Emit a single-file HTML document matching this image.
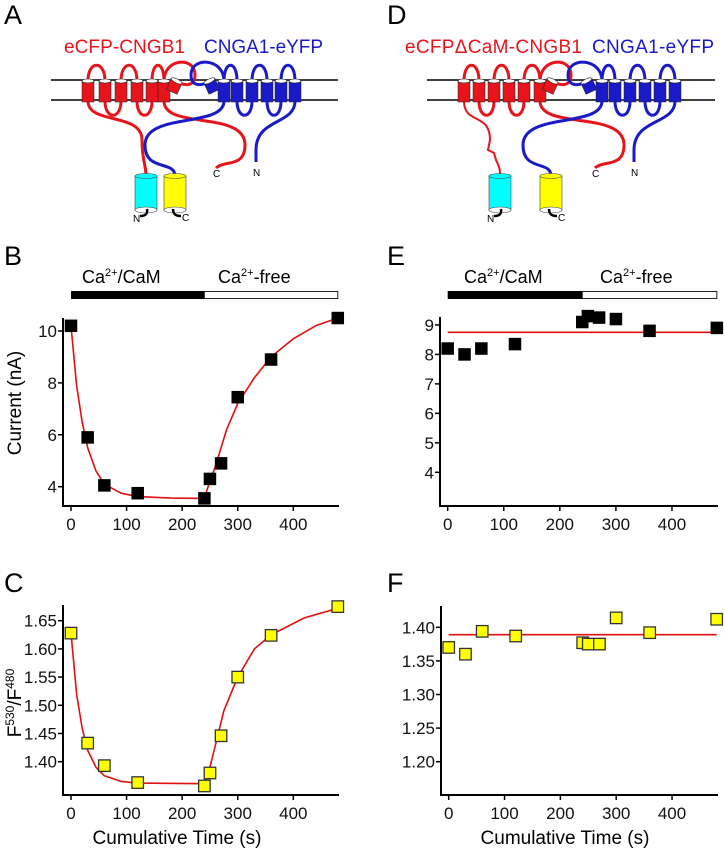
<!DOCTYPE html>
<html><head><meta charset="utf-8"><style>
html,body{margin:0;padding:0;background:#fff;}
svg{display:block;font-family:"Liberation Sans",Arial,sans-serif;}
</style></head><body>
<svg id="fig" width="725" height="853" viewBox="0 0 725 853">
<text x="4" y="24" font-size="27">A</text>
<text x="25" y="24" font-size="27" transform="translate(362,0)">D</text>
<text x="4" y="265" font-size="27">B</text>
<text x="387" y="265" font-size="27">E</text>
<text x="4" y="592" font-size="27">C</text>
<text x="387" y="592" font-size="27">F</text>
<text x="64" y="53" font-size="19" textLength="121" fill="#e8141c">eCFP-CNGB1</text>
<text x="204" y="53" font-size="19" textLength="119" fill="#1a1ac8">CNGA1-eYFP</text>
<text x="405" y="53" font-size="19" textLength="177" fill="#e8141c">eCFPΔCaM-CNGB1</text>
<text x="592" y="53" font-size="19" textLength="122" fill="#1a1ac8">CNGA1-eYFP</text>
<g id="diagA"></g>
<g id="diagD"></g>
<g id="plots"></g>
</svg>
<script>
// ---- data ----
const timesB = [0,30,60,120,240,250,270,300,360,480];
const currentB = [10.2,5.9,4.05,3.75,3.55,4.3,4.9,7.45,8.9,10.5];
const fitTimeB = [0,10,20,30,45,60,90,120,180,240,245,260,280,300,330,360,400,440,480];
const fitCurrentB = [10.2,7.9,6.5,5.5,4.6,4.1,3.75,3.62,3.56,3.55,3.9,4.8,6.2,7.2,8.2,9.0,9.7,10.2,10.5];
const timesC = [0,30,60,120,240,250,270,300,360,480];
const ratioC = [1.628,1.433,1.393,1.363,1.357,1.38,1.446,1.55,1.624,1.675];
const fitTimeC = [0,10,20,30,45,60,90,120,240,250,260,275,300,330,360,420,480];
const fitRatioC = [1.628,1.52,1.46,1.42,1.39,1.375,1.365,1.362,1.361,1.39,1.43,1.49,1.55,1.6,1.625,1.655,1.672];
const timesE = [0,30,60,120,240,250,270,300,360,480];
const currentE = [8.2,8.0,8.2,8.35,9.1,9.3,9.25,9.2,8.8,8.9];
const fitLevelE = [8.75];
const timesF = [0,30,60,120,240,250,270,300,360,480];
const ratioF = [1.370,1.360,1.394,1.387,1.377,1.375,1.375,1.414,1.392,1.412];
const fitLevelF = [1.389];
const xTicks = [0,100,200,300,400];
const yTicksB = [4,6,8,10];
const yTicksC = [1.40,1.45,1.50,1.55,1.60,1.65];
const yTicksE = [4,5,6,7,8,9];
const yTicksF = [1.20,1.25,1.30,1.35,1.40];

const NS="http://www.w3.org/2000/svg";
function mk(parent,tag,attrs,text){const e=document.createElementNS(NS,tag);for(const k in attrs)e.setAttribute(k,attrs[k]);if(text!==undefined)e.textContent=text;parent.appendChild(e);return e;}
const plots=document.getElementById('plots');

function panel(o){
  const g=mk(plots,'g',{});
  
  
  const X=t=>o.x0+t*o.xs;
  const Y=v=>o.y0-(v-o.v0)*o.ys;
  const ax=mk(g,'path',{d:`M${o.axX},${o.top} V${o.bot} H${o.right}`,stroke:'#000','stroke-width':2,fill:'none'});
  
  
  xTicks.forEach(t=>{
    mk(g,'line',{x1:X(t),x2:X(t),y1:o.bot,y2:o.bot+5,stroke:'#000','stroke-width':1.5});
    const tl=mk(g,'text',{x:X(t),y:o.bot+24,'font-size':17,'text-anchor':'middle',fill:'#111'},String(t));
    
    
  });
  o.yt.forEach(v=>{
    mk(g,'line',{x1:o.axX-5,x2:o.axX,y1:Y(v),y2:Y(v),stroke:'#000','stroke-width':1.5});
    const tl=mk(g,'text',{x:o.axX-6,y:Y(v)+6,'font-size':17,'text-anchor':'end',fill:'#111'},o.fmt(v));
    
    
  });
  if(o.fitT){
    const d=o.fitT.map((t,i)=>(i?'L':'M')+X(t).toFixed(1)+','+Y(o.fitV[i]).toFixed(1)).join(' ');
    const fl=mk(g,'path',{d:d,stroke:'#e01010','stroke-width':1.6,fill:'none','stroke-linejoin':'round'});
    
    
  } else {
    const fl=mk(g,'line',{x1:X(0),x2:X(480),y1:Y(o.level[0]),y2:Y(o.level[0]),stroke:'#e01010','stroke-width':1.6});
    
    
  }
  o.t.forEach((t,i)=>{
    const s=o.yellow?11.5:12.5;
    const r=mk(g,'rect',{x:X(t)-s/2,y:Y(o.v[i])-s/2,width:s,height:s,fill:o.yellow?'#ffff00':'#000',stroke:o.yellow?'#333':'none','stroke-width':1.3});
    
    
  });
  if(o.bar){
    const b=o.bar;
    const bb=mk(g,'rect',{x:X(0),y:291,width:X(240)-X(0),height:8,fill:'#000'});
    
    
    const wb=mk(g,'rect',{x:X(240),y:291.5,width:X(480)-X(240),height:7,fill:'#fff',stroke:'#222','stroke-width':1});
    
    
    const t1=mk(g,'text',{x:b[0],y:283,'font-size':18});
    
    
    t1.innerHTML='Ca<tspan font-size="11" dy="-7">2+</tspan><tspan dy="7">/CaM</tspan>';
    const t2=mk(g,'text',{x:b[1],y:283,'font-size':18});
    
    
    t2.innerHTML='Ca<tspan font-size="11" dy="-7">2+</tspan><tspan dy="7">-free</tspan>';
  }
  if(o.xlabel){
    const xl=mk(g,'text',{x:o.xlabel,y:844,'font-size':19,'text-anchor':'middle'},'Cumulative Time (s)');
    
    
  }
  if(o.ylabel){
    const yl=mk(g,'text',{transform:`translate(21,${o.ylabelY}) rotate(-90)`,'font-size':19,'text-anchor':'middle'});
    
    
    yl.innerHTML=o.ylabel;
  }
}
panel({name:'panel-b-current-plot',x0:71,xs:0.5558,y0:486.7,v0:4,ys:25.95,axX:63,top:318,bot:506,right:339,yt:yTicksB,fmt:v=>String(v),t:timesB,v:currentB,fitT:fitTimeB,fitV:fitCurrentB,bar:[82,218],ylabel:'Current (nA)',ylabelY:403});
panel({name:'panel-c-ratio-plot',x0:71,xs:0.5558,y0:761.7,v0:1.40,ys:564,axX:63,top:605,bot:795,right:339,yt:yTicksC,fmt:v=>v.toFixed(2),t:timesC,v:ratioC,fitT:fitTimeC,fitV:fitRatioC,yellow:true,xlabel:177,ylabel:'F<tspan font-size="12" dy="-7">530</tspan><tspan dy="7">/F</tspan><tspan font-size="12" dy="-7">480</tspan>',ylabelY:703});
panel({name:'panel-e-current-plot',x0:447.7,xs:0.5607,y0:472.3,v0:4,ys:29.47,axX:440,top:317,bot:506,right:718,yt:yTicksE,fmt:v=>String(v),t:timesE,v:currentE,level:fitLevelE,bar:[464,600]});
panel({name:'panel-f-ratio-plot',x0:448.7,xs:0.5583,y0:627.3,v0:1.40,ys:672,axX:441,top:606,bot:795,right:718,yt:yTicksF,fmt:v=>v.toFixed(2),t:timesF,v:ratioF,level:fitLevelF,yellow:true,xlabel:565});

// ---- channel diagrams ----
const RED='#e8141c',BLUE='#1a1ac8';
function helix(g,x,col,rot){
  const h=mk(g,'g',{transform:rot?`rotate(${rot} ${x} 80)`:''});
  mk(h,'rect',{x:x-6,y:81,width:12,height:rot?12:21,fill:col,stroke:'#222','stroke-width':0.5});
  mk(h,'ellipse',{cx:x,cy:81,rx:6,ry:2,fill:'#fff',stroke:'#222','stroke-width':0.6});
}
function cyl(g,cx,col,name){
  const c=mk(g,'g',{});
  
  
  mk(c,'rect',{x:cx-11,y:176,width:22,height:34,fill:col,stroke:'#444','stroke-width':0.6});
  mk(c,'ellipse',{cx:cx,cy:176,rx:11,ry:2.5,fill:col,stroke:'#444','stroke-width':0.6});
  mk(c,'ellipse',{cx:cx,cy:210,rx:11,ry:3,fill:'#fff',stroke:'#444','stroke-width':0.6});
}
function channel(id,p){
  const g=document.getElementById(id);
  mk(g,'line',{x1:p.m0,x2:p.m1,y1:80,y2:80,stroke:'#000','stroke-width':1.5});
  mk(g,'line',{x1:p.m0,x2:p.m1,y1:100,y2:100,stroke:'#000','stroke-width':1.5});
  const loops=(xs,col)=>{
    for(let i=0;i<xs.length-1;i++){
      const a=xs[i],b=xs[i+1];
      const d=(i%2===0)?`M${a},81 C${a},60 ${b},60 ${b},81`:`M${a},101 C${a},120 ${b},120 ${b},101`;
      mk(g,'path',{d:d,stroke:col,'stroke-width':3,fill:'none'});
    }
  };
  loops(p.r,RED);loops(p.b,BLUE);
  const r6=p.r[5],b1=p.b[0];
  mk(g,'path',{d:`M${r6},81 C${r6},58 ${p.rs+18},56 ${p.rs+18},75 C${p.rs+18},88 ${p.rs+4},86 ${p.rs},80`,stroke:RED,'stroke-width':3,fill:'none'});
  mk(g,'path',{d:`M${b1},81 C${b1},58 ${p.bs-18},56 ${p.bs-18},75 C${p.bs-18},88 ${p.bs-4},86 ${p.bs},80`,stroke:BLUE,'stroke-width':3,fill:'none'});
  const r1=p.r[0],b6=p.b[5];
  let d1;
  if(p.zig){d1=`M${r1},101 C${r1},125 ${p.cy-10},112 ${p.cy-10},140 L${p.cy-12},150 L${p.cy-6},153 L${p.cy-4},160 C${p.cy},168 ${p.cy},170 ${p.cy},176`;}
  else d1=`M${r1},101 C${r1},125 ${p.cy-4},112 ${p.cy-4},140 C${p.cy-4},160 ${p.cy},165 ${p.cy},176`;
  mk(g,'path',{d:d1,stroke:RED,'stroke-width':p.zig?2:3,fill:'none'});
  mk(g,'path',{d:`M${r6},101 C${r6},130 ${p.rx},110 ${p.rx},145 C${p.rx},168 ${p.cx+8},160 ${p.cx},168`,stroke:RED,'stroke-width':3,fill:'none'});
  mk(g,'path',{d:`M${b1},101 C${b1},128 ${p.bx},112 ${p.bx},145 C${p.bx},172 ${p.yc},160 ${p.yc},176`,stroke:BLUE,'stroke-width':3,fill:'none'});
  mk(g,'path',{d:`M${b6},101 C${b6},125 ${p.nx},118 ${p.nx},150 L${p.nx},162`,stroke:BLUE,'stroke-width':3,fill:'none'});
  p.r.forEach(x=>helix(g,x,RED));p.b.forEach(x=>helix(g,x,BLUE));
  helix(g,p.rs,RED,25);helix(g,p.bs,BLUE,-25);
  cyl(g,p.cy,'#00ffff','ecfp-cylinder');cyl(g,p.yc,'#ffff00','eyfp-cylinder');
  mk(g,'path',{d:`M${p.cy+1},209 C${p.cy+2},215 ${p.cy-2},216 ${p.cy-6},216`,stroke:'#000','stroke-width':2.5,fill:'none'});
  mk(g,'path',{d:`M${p.yc-2},209 C${p.yc-2},215 ${p.yc+2},216 ${p.yc+6},216`,stroke:'#000','stroke-width':2.5,fill:'none'});
  mk(g,'text',{x:p.cy-13,y:222,'font-size':10},'N');
  mk(g,'text',{x:p.yc+7,y:221,'font-size':10},'C');
  mk(g,'text',{x:p.cx-3,y:177,'font-size':10},'C');
  mk(g,'text',{x:p.nx-3,y:176,'font-size':10},'N');
}
channel('diagA',{m0:51,m1:338,r:[88,105,121,137,152,164],rs:177,b:[224,237,252,267,281,295],bs:209,cy:146,yc:175,rx:245,cx:216,bx:145,nx:256,zig:false});
channel('diagD',{m0:427,m1:715,r:[464,479,494,509,524,540],rs:553,b:[602,615,630,645,660,675],bs:586,cy:500,yc:551,rx:624,cx:595,bx:523,nx:634,zig:true});
</script>
</body></html>
